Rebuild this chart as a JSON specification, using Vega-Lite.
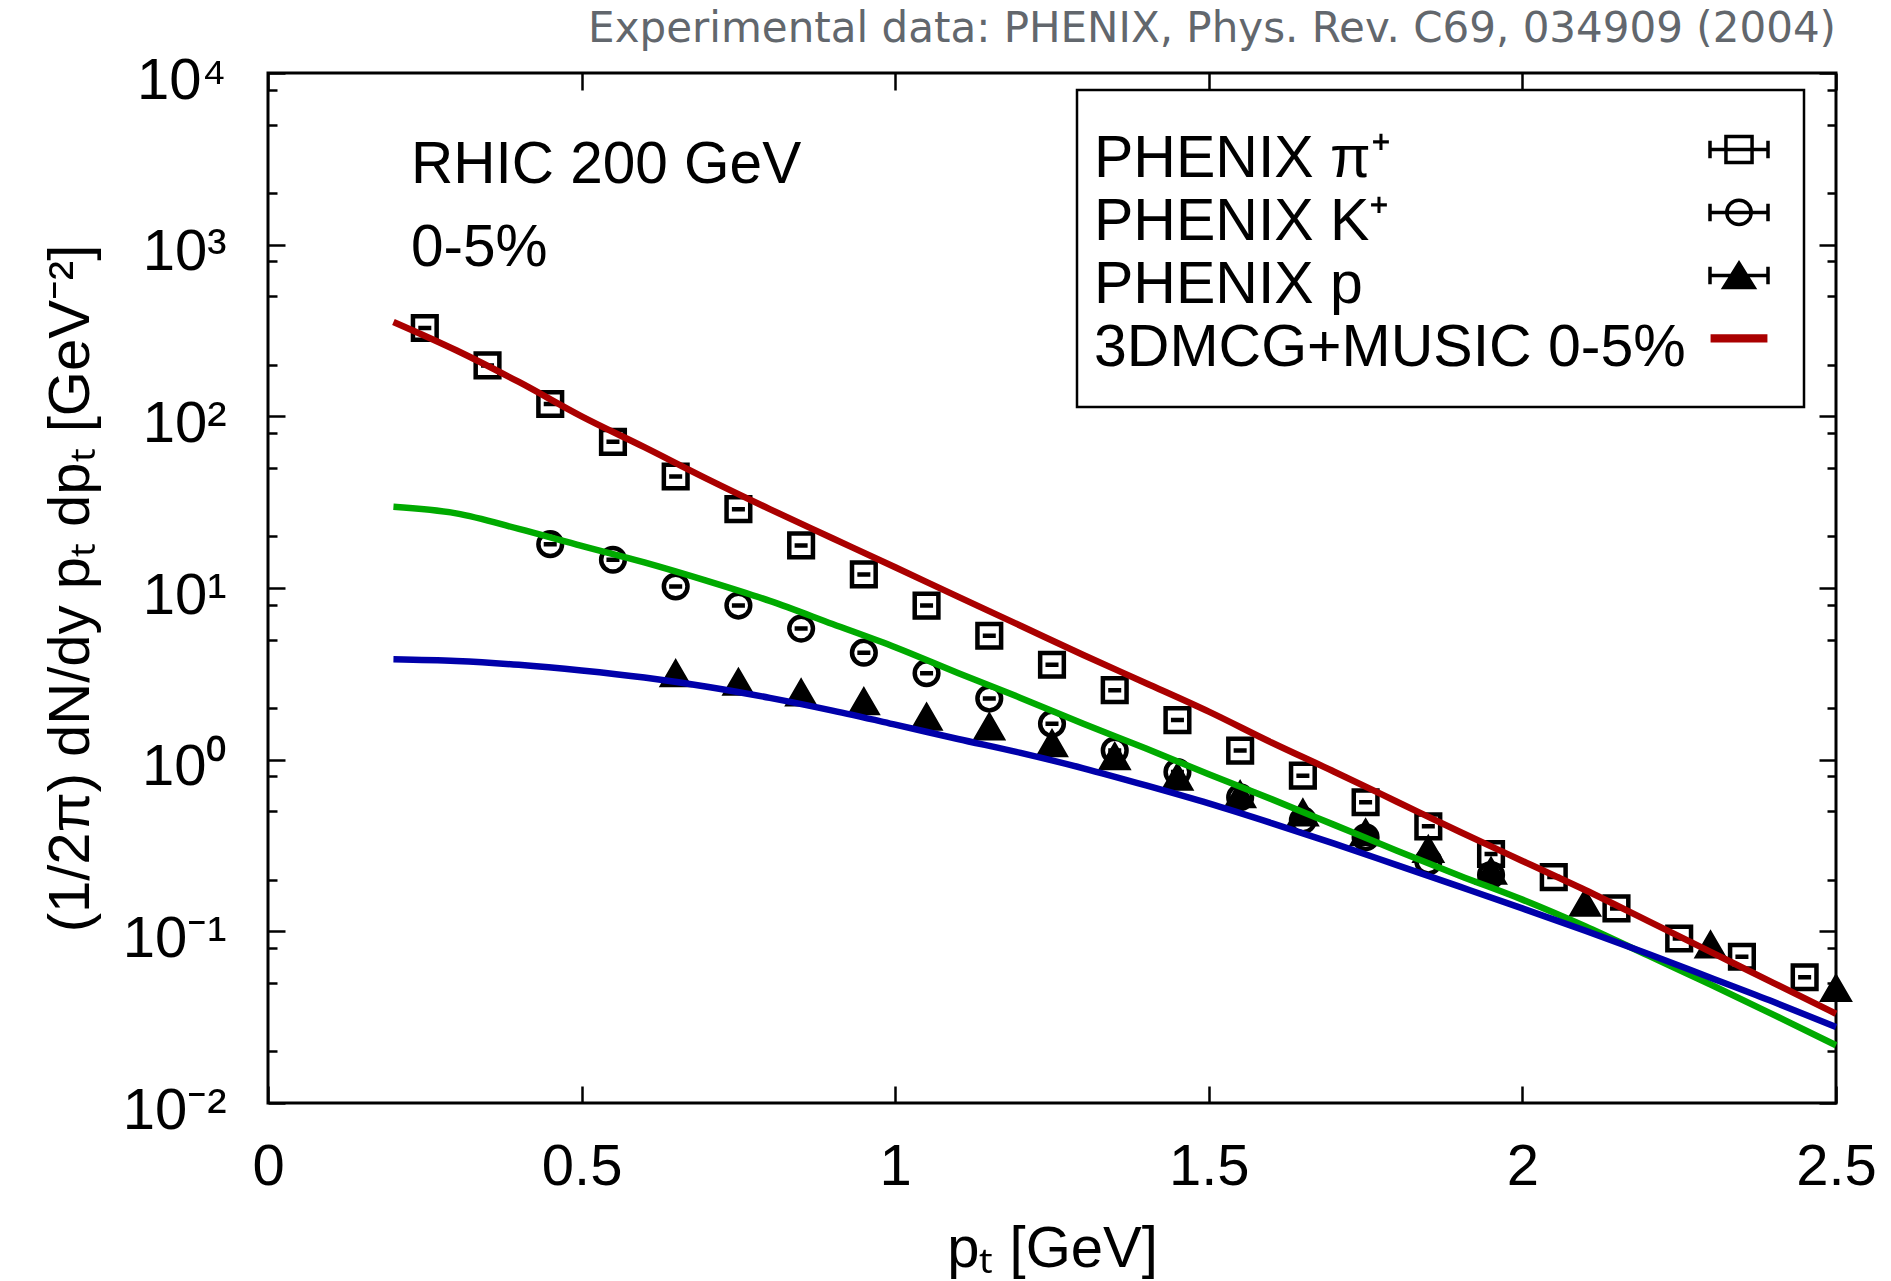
{
  "$schema": "https://vega.github.io/schema/vega-lite/v6.json",
  "width": 1568,
  "height": 1030,
  "autosize": {"type": "none"},
  "padding": {"left": 268, "top": 73, "right": 55, "bottom": 178},
  "background": "white",
  "title": {
    "text": "Experimental data: PHENIX, Phys. Rev. C69, 034909 (2004)",
    "anchor": "end",
    "frame": "group",
    "orient": "top",
    "offset": 4,
    "dy": 36,
    "baseline": "alphabetic",
    "font": "DejaVu Sans",
    "fontWeight": "normal",
    "fontSize": 42,
    "color": "#62676d"
  },
  "config": {
    "view": {"stroke": "black", "strokeWidth": 3},
    "text": {"font": "Liberation Sans"},
    "legend": {"strokeWidth": 2.5}
  },
  "datasets": {
    "points": [
      {"series": "PHENIX π⁺", "pT": 0.25, "yield": 327},
      {"series": "PHENIX π⁺", "pT": 0.35, "yield": 198},
      {"series": "PHENIX π⁺", "pT": 0.45, "yield": 118},
      {"series": "PHENIX π⁺", "pT": 0.55, "yield": 71},
      {"series": "PHENIX π⁺", "pT": 0.65, "yield": 44.6},
      {"series": "PHENIX π⁺", "pT": 0.75, "yield": 28.8},
      {"series": "PHENIX π⁺", "pT": 0.85, "yield": 17.7},
      {"series": "PHENIX π⁺", "pT": 0.95, "yield": 12.0},
      {"series": "PHENIX π⁺", "pT": 1.05, "yield": 7.9},
      {"series": "PHENIX π⁺", "pT": 1.15, "yield": 5.27},
      {"series": "PHENIX π⁺", "pT": 1.25, "yield": 3.57},
      {"series": "PHENIX π⁺", "pT": 1.35, "yield": 2.54},
      {"series": "PHENIX π⁺", "pT": 1.45, "yield": 1.70},
      {"series": "PHENIX π⁺", "pT": 1.55, "yield": 1.13},
      {"series": "PHENIX π⁺", "pT": 1.65, "yield": 0.807},
      {"series": "PHENIX π⁺", "pT": 1.75, "yield": 0.565},
      {"series": "PHENIX π⁺", "pT": 1.85, "yield": 0.409},
      {"series": "PHENIX π⁺", "pT": 1.95, "yield": 0.282},
      {"series": "PHENIX π⁺", "pT": 2.05, "yield": 0.207},
      {"series": "PHENIX π⁺", "pT": 2.15, "yield": 0.136},
      {"series": "PHENIX π⁺", "pT": 2.25, "yield": 0.0908},
      {"series": "PHENIX π⁺", "pT": 2.35, "yield": 0.0711},
      {"series": "PHENIX π⁺", "pT": 2.45, "yield": 0.054},
      {"series": "PHENIX K⁺", "pT": 0.45, "yield": 18.0},
      {"series": "PHENIX K⁺", "pT": 0.55, "yield": 14.6},
      {"series": "PHENIX K⁺", "pT": 0.65, "yield": 10.2},
      {"series": "PHENIX K⁺", "pT": 0.75, "yield": 7.9},
      {"series": "PHENIX K⁺", "pT": 0.85, "yield": 5.8},
      {"series": "PHENIX K⁺", "pT": 0.95, "yield": 4.2},
      {"series": "PHENIX K⁺", "pT": 1.05, "yield": 3.19},
      {"series": "PHENIX K⁺", "pT": 1.15, "yield": 2.27},
      {"series": "PHENIX K⁺", "pT": 1.25, "yield": 1.62},
      {"series": "PHENIX K⁺", "pT": 1.35, "yield": 1.13},
      {"series": "PHENIX K⁺", "pT": 1.45, "yield": 0.847},
      {"series": "PHENIX K⁺", "pT": 1.55, "yield": 0.603},
      {"series": "PHENIX K⁺", "pT": 1.65, "yield": 0.443},
      {"series": "PHENIX K⁺", "pT": 1.75, "yield": 0.353},
      {"series": "PHENIX K⁺", "pT": 1.85, "yield": 0.255},
      {"series": "PHENIX K⁺", "pT": 1.95, "yield": 0.213},
      {"series": "PHENIX p", "pT": 0.65, "yield": 3.04},
      {"series": "PHENIX p", "pT": 0.75, "yield": 2.71},
      {"series": "PHENIX p", "pT": 0.85, "yield": 2.35},
      {"series": "PHENIX p", "pT": 0.95, "yield": 2.09},
      {"series": "PHENIX p", "pT": 1.05, "yield": 1.70},
      {"series": "PHENIX p", "pT": 1.15, "yield": 1.49},
      {"series": "PHENIX p", "pT": 1.25, "yield": 1.19},
      {"series": "PHENIX p", "pT": 1.35, "yield": 1.0},
      {"series": "PHENIX p", "pT": 1.45, "yield": 0.76},
      {"series": "PHENIX p", "pT": 1.55, "yield": 0.60},
      {"series": "PHENIX p", "pT": 1.65, "yield": 0.47},
      {"series": "PHENIX p", "pT": 1.75, "yield": 0.36},
      {"series": "PHENIX p", "pT": 1.85, "yield": 0.288},
      {"series": "PHENIX p", "pT": 1.95, "yield": 0.215},
      {"series": "PHENIX p", "pT": 2.10, "yield": 0.140},
      {"series": "PHENIX p", "pT": 2.30, "yield": 0.080},
      {"series": "PHENIX p", "pT": 2.50, "yield": 0.0446}
    ],
    "curves": [
      {"particle": "K", "pT": 0.2, "yield": 29.7},
      {"particle": "K", "pT": 0.3, "yield": 27.2},
      {"particle": "K", "pT": 0.4, "yield": 22.1},
      {"particle": "K", "pT": 0.5, "yield": 17.6},
      {"particle": "K", "pT": 0.6, "yield": 14.1},
      {"particle": "K", "pT": 0.7, "yield": 11.0},
      {"particle": "K", "pT": 0.8, "yield": 8.41},
      {"particle": "K", "pT": 0.9, "yield": 6.17},
      {"particle": "K", "pT": 1.0, "yield": 4.52},
      {"particle": "K", "pT": 1.1, "yield": 3.20},
      {"particle": "K", "pT": 1.2, "yield": 2.29},
      {"particle": "K", "pT": 1.3, "yield": 1.62},
      {"particle": "K", "pT": 1.4, "yield": 1.16},
      {"particle": "K", "pT": 1.5, "yield": 0.822},
      {"particle": "K", "pT": 1.6, "yield": 0.589},
      {"particle": "K", "pT": 1.7, "yield": 0.417},
      {"particle": "K", "pT": 1.8, "yield": 0.295},
      {"particle": "K", "pT": 1.9, "yield": 0.211},
      {"particle": "K", "pT": 2.0, "yield": 0.153},
      {"particle": "K", "pT": 2.1, "yield": 0.107},
      {"particle": "K", "pT": 2.2, "yield": 0.0724},
      {"particle": "K", "pT": 2.3, "yield": 0.0490},
      {"particle": "K", "pT": 2.4, "yield": 0.0327},
      {"particle": "K", "pT": 2.5, "yield": 0.0217},
      {"particle": "p", "pT": 0.2, "yield": 3.85},
      {"particle": "p", "pT": 0.3, "yield": 3.76},
      {"particle": "p", "pT": 0.4, "yield": 3.57},
      {"particle": "p", "pT": 0.5, "yield": 3.31},
      {"particle": "p", "pT": 0.6, "yield": 3.01},
      {"particle": "p", "pT": 0.7, "yield": 2.66},
      {"particle": "p", "pT": 0.8, "yield": 2.29},
      {"particle": "p", "pT": 0.9, "yield": 1.93},
      {"particle": "p", "pT": 1.0, "yield": 1.60},
      {"particle": "p", "pT": 1.1, "yield": 1.32},
      {"particle": "p", "pT": 1.2, "yield": 1.096},
      {"particle": "p", "pT": 1.3, "yield": 0.891},
      {"particle": "p", "pT": 1.4, "yield": 0.708},
      {"particle": "p", "pT": 1.5, "yield": 0.556},
      {"particle": "p", "pT": 1.6, "yield": 0.427},
      {"particle": "p", "pT": 1.7, "yield": 0.324},
      {"particle": "p", "pT": 1.8, "yield": 0.243},
      {"particle": "p", "pT": 1.9, "yield": 0.182},
      {"particle": "p", "pT": 2.0, "yield": 0.136},
      {"particle": "p", "pT": 2.1, "yield": 0.101},
      {"particle": "p", "pT": 2.2, "yield": 0.0741},
      {"particle": "p", "pT": 2.3, "yield": 0.0537},
      {"particle": "p", "pT": 2.4, "yield": 0.0389},
      {"particle": "p", "pT": 2.5, "yield": 0.0277},
      {"particle": "pi", "pT": 0.2, "yield": 354.8},
      {"particle": "pi", "pT": 0.3, "yield": 242.7},
      {"particle": "pi", "pT": 0.4, "yield": 158.5},
      {"particle": "pi", "pT": 0.5, "yield": 100},
      {"particle": "pi", "pT": 0.6, "yield": 66.1},
      {"particle": "pi", "pT": 0.7, "yield": 43.2},
      {"particle": "pi", "pT": 0.8, "yield": 28.8},
      {"particle": "pi", "pT": 0.9, "yield": 19.5},
      {"particle": "pi", "pT": 1.0, "yield": 13.2},
      {"particle": "pi", "pT": 1.1, "yield": 8.91},
      {"particle": "pi", "pT": 1.2, "yield": 6.03},
      {"particle": "pi", "pT": 1.3, "yield": 4.07},
      {"particle": "pi", "pT": 1.4, "yield": 2.79},
      {"particle": "pi", "pT": 1.5, "yield": 1.905},
      {"particle": "pi", "pT": 1.6, "yield": 1.259},
      {"particle": "pi", "pT": 1.7, "yield": 0.851},
      {"particle": "pi", "pT": 1.8, "yield": 0.569},
      {"particle": "pi", "pT": 1.9, "yield": 0.380},
      {"particle": "pi", "pT": 2.0, "yield": 0.257},
      {"particle": "pi", "pT": 2.1, "yield": 0.174},
      {"particle": "pi", "pT": 2.2, "yield": 0.115},
      {"particle": "pi", "pT": 2.3, "yield": 0.0759},
      {"particle": "pi", "pT": 2.4, "yield": 0.0501},
      {"particle": "pi", "pT": 2.5, "yield": 0.0331}
    ]
  },
  "layer": [
    {
      "data": {"name": "points"},
      "mark": {"type": "point", "size": 560, "strokeWidth": 4.5, "opacity": 1},
      "encoding": {
        "x": {
          "field": "pT", "type": "quantitative",
          "scale": {"domain": [0, 2.5], "nice": false, "zero": false},
          "axis": {"orient": "top", "values": [0, 0.5, 1, 1.5, 2, 2.5], "labels": false, "domain": false, "grid": false, "title": null, "tickSize": -17, "tickWidth": 2.5, "tickColor": "black"}
        },
        "y": {
          "field": "yield", "type": "quantitative",
          "scale": {"type": "log", "domain": [0.01, 10000], "nice": false},
          "axis": {
            "orient": "right",
            "values": [0.01, 0.02, 0.05, 0.08, 0.1, 0.2, 0.5, 0.8, 1, 2, 5, 8, 10, 20, 50, 80, 100, 200, 500, 800, 1000, 2000, 5000, 8000, 10000],
            "labels": false, "domain": false, "grid": false, "title": null,
            "tickSize": {"condition": {"test": "indexof([0.01,0.1,1,10,100,1000,10000], datum.value) >= 0", "value": -17}, "value": -9},
            "tickWidth": 2.5, "tickColor": "black"
          }
        },
        "shape": {
          "field": "series", "type": "nominal",
          "scale": {
            "domain": ["PHENIX π⁺", "PHENIX K⁺", "PHENIX p"],
            "range": ["M-1,-1H1V1H-1Z M-0.55,0H0.55", "M1,0A1,1,0,1,1,-1,0A1,1,0,1,1,1,0Z M-0.55,0H0.55", "M0,-1.2L1.1,0.7H-1.1Z"]
          },
          "legend": null
        },
        "fill": {
          "field": "series", "type": "nominal",
          "scale": {"domain": ["PHENIX π⁺", "PHENIX K⁺", "PHENIX p"], "range": ["transparent", "transparent", "black"]},
          "legend": null
        },
        "stroke": {"value": "black"}
      }
    },
    {
      "data": {"name": "points"},
      "transform": [{"filter": "false"}],
      "mark": {"type": "point", "opacity": 1},
      "encoding": {
        "x": {"field": "pT", "type": "quantitative", "scale": {"domain": [0, 2.5], "nice": false, "zero": false}, "axis": null},
        "y": {"field": "yield", "type": "quantitative", "scale": {"type": "log", "domain": [0.01, 10000], "nice": false}, "axis": null},
        "shape": {
          "field": "series", "type": "nominal",
          "scale": {
            "domain": ["PHENIX π⁺", "PHENIX K⁺", "PHENIX p", "3DMCG+MUSIC 0-5%"],
            "range": [
              "M-0.45,-0.78H0.45V0.12H-0.45Z M-1,-0.33H1 M-1,-0.63V-0.03 M1,-0.63V-0.03",
              "M0.42,-0.33A0.42,0.42,0,1,1,-0.42,-0.33A0.42,0.42,0,1,1,0.42,-0.33Z M-1,-0.33H1 M-1,-0.63V-0.03 M1,-0.63V-0.03",
              "M0,-0.75L0.52,0.09H-0.52Z M-1,-0.33H1 M-1,-0.63V-0.03 M1,-0.63V-0.03",
              "M-0.92,-0.41H0.92V-0.25H-0.92Z"
            ]
          },
          "legend": {
            "orient": "none",
            "legendX": 809,
            "legendY": 17,
            "title": " ",
            "titleFontSize": 2,
            "titlePadding": 7,
            "labelFont": "Liberation Sans",
            "labelFontSize": 59,
            "labelColor": "black",
            "labelLimit": 0,
            "labelOffset": -676,
            "symbolOffset": 602,
            "symbolSize": 3364,
            "symbolStrokeWidth": 3.5,
            "symbolOpacity": 1,
            "rowPadding": 2,
            "padding": 29,
            "fillColor": "white",
            "strokeColor": "black"
          }
        },
        "stroke": {
          "field": "series", "type": "nominal",
          "scale": {"domain": ["PHENIX π⁺", "PHENIX K⁺", "PHENIX p", "3DMCG+MUSIC 0-5%"], "range": ["black", "black", "black", "#aa0000"]},
          "legend": {
            "orient": "none",
            "legendX": 809,
            "legendY": 17,
            "title": " ",
            "titleFontSize": 2,
            "titlePadding": 7,
            "labelFont": "Liberation Sans",
            "labelFontSize": 59,
            "labelColor": "black",
            "labelLimit": 0,
            "labelOffset": -676,
            "symbolOffset": 602,
            "symbolSize": 3364,
            "symbolStrokeWidth": 3.5,
            "symbolOpacity": 1,
            "rowPadding": 2,
            "padding": 29,
            "fillColor": "white",
            "strokeColor": "black"
          }
        },
        "fill": {
          "field": "series", "type": "nominal",
          "scale": {"domain": ["PHENIX π⁺", "PHENIX K⁺", "PHENIX p", "3DMCG+MUSIC 0-5%"], "range": ["transparent", "transparent", "black", "#aa0000"]},
          "legend": {
            "orient": "none",
            "legendX": 809,
            "legendY": 17,
            "title": " ",
            "titleFontSize": 2,
            "titlePadding": 7,
            "labelFont": "Liberation Sans",
            "labelFontSize": 59,
            "labelColor": "black",
            "labelLimit": 0,
            "labelOffset": -676,
            "symbolOffset": 602,
            "symbolSize": 3364,
            "symbolStrokeWidth": 3.5,
            "symbolOpacity": 1,
            "rowPadding": 2,
            "padding": 29,
            "fillColor": "white",
            "strokeColor": "black"
          }
        }
      }
    },
    {
      "data": {"name": "curves"},
      "mark": {"type": "line", "strokeWidth": 6.5, "interpolate": "monotone"},
      "encoding": {
        "x": {
          "field": "pT", "type": "quantitative",
          "scale": {"domain": [0, 2.5], "nice": false, "zero": false},
          "axis": {
            "orient": "bottom", "values": [0, 0.5, 1, 1.5, 2, 2.5], "format": "~g",
            "tickSize": -17, "tickWidth": 2.5, "tickColor": "black", "domain": false, "grid": false,
            "labelFont": "Liberation Sans", "labelFontSize": 58, "labelColor": "black", "labelPadding": 52,
            "labelFlush": false, "labelOverlap": false, "labelBound": false,
            "title": "pₜ [GeV]", "titleFont": "Liberation Sans", "titleFontSize": 58, "titleFontWeight": "normal", "titleColor": "black", "titlePadding": 24
          }
        },
        "y": {
          "field": "yield", "type": "quantitative",
          "scale": {"type": "log", "domain": [0.01, 10000], "nice": false},
          "axis": {
            "orient": "left",
            "values": [0.01, 0.02, 0.05, 0.08, 0.1, 0.2, 0.5, 0.8, 1, 2, 5, 8, 10, 20, 50, 80, 100, 200, 500, 800, 1000, 2000, 5000, 8000, 10000],
            "labelExpr": "datum.value == 10000 ? '10⁴' : datum.value == 1000 ? '10³' : datum.value == 100 ? '10²' : datum.value == 10 ? '10¹' : datum.value == 1 ? '10⁰' : datum.value == 0.1 ? '10⁻¹' : datum.value == 0.01 ? '10⁻²' : ''",
            "tickSize": {"condition": {"test": "indexof([0.01,0.1,1,10,100,1000,10000], datum.value) >= 0", "value": -17}, "value": -9},
            "tickWidth": 2.5, "tickColor": "black", "domain": false, "grid": false,
            "labelFont": "Liberation Sans", "labelFontSize": 58, "labelColor": "black", "labelPadding": 59,
            "labelOffset": 8, "labelFlush": false, "labelOverlap": false, "labelBound": false,
            "title": "(1/2π) dN/dy pₜ dpₜ [GeV⁻²]", "titleFont": "Liberation Sans", "titleFontSize": 58, "titleFontWeight": "normal", "titleColor": "black", "titlePadding": 22
          }
        },
        "color": {
          "field": "particle", "type": "nominal",
          "scale": {"domain": ["K", "p", "pi"], "range": ["#00aa00", "#0000aa", "#aa0000"]},
          "legend": null
        }
      }
    },
    {
      "data": {"values": [{}]},
      "mark": {"type": "text", "text": "RHIC 200 GeV", "align": "left", "baseline": "alphabetic", "font": "Liberation Sans", "fontSize": 58.5, "color": "black"},
      "encoding": {
        "x": {"datum": 0.228, "type": "quantitative", "scale": {"domain": [0, 2.5], "nice": false, "zero": false}, "axis": null},
        "y": {"datum": 2288, "type": "quantitative", "scale": {"type": "log", "domain": [0.01, 10000], "nice": false}, "axis": null}
      }
    },
    {
      "data": {"values": [{}]},
      "mark": {"type": "text", "text": "0-5%", "align": "left", "baseline": "alphabetic", "font": "Liberation Sans", "fontSize": 58.5, "color": "black"},
      "encoding": {
        "x": {"datum": 0.228, "type": "quantitative", "scale": {"domain": [0, 2.5], "nice": false, "zero": false}, "axis": null},
        "y": {"datum": 751, "type": "quantitative", "scale": {"type": "log", "domain": [0.01, 10000], "nice": false}, "axis": null}
      }
    }
  ],
  "resolve": {
    "axis": {"x": "independent", "y": "independent"},
    "scale": {"shape": "independent", "fill": "independent", "stroke": "independent"},
    "legend": {"shape": "independent", "fill": "independent", "stroke": "independent"}
  }
}
